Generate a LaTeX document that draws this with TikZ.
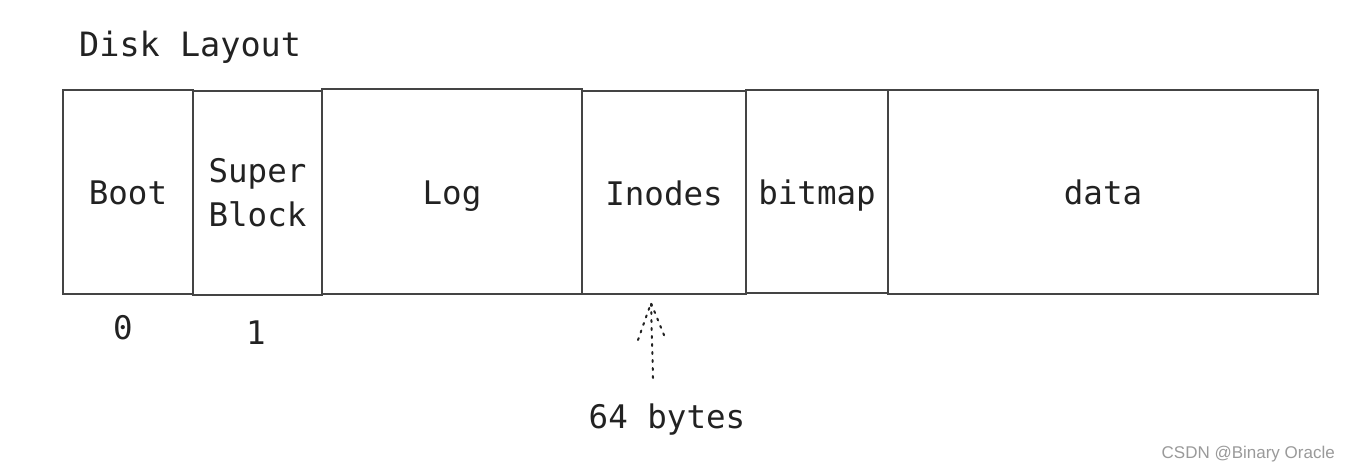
\documentclass[tikz,border=0pt]{standalone}
\usepackage{fontspec}
\newfontfamily\monofam{DejaVu Sans Mono}
\newfontfamily\wmfam{Liberation Sans}
\definecolor{ink}{HTML}{222222}
\definecolor{edge}{HTML}{444444}
\definecolor{wm}{HTML}{9A9A9A}
\begin{document}
\begin{tikzpicture}[x=1pt,y=-1pt,
  blk/.style={draw=edge, line width=2pt, fill=white, inner sep=0pt, text=ink,
    font=\monofam\fontsize{32.5}{44}\selectfont, align=center,
    text height=26pt, text depth=0pt},
  lbl/.style={text=ink, font=\monofam\fontsize{32.5}{40}\selectfont, inner sep=0pt},
  dots/.style={draw=ink, line width=2pt, dash pattern=on 2pt off 6pt, line cap=round}]
\useasboundingbox (0,0) rectangle (1350,473);
\fill[white] (0,0) rectangle (1350,473);
\node[lbl, anchor=base west, font=\monofam\fontsize{33.5}{40}\selectfont] (title) at (79,57) {Disk Layout};
\node[blk, minimum width=130pt, minimum height=204pt] (boot) at (128,192) {Boot};
\node[blk, minimum width=129pt, minimum height=204pt, text height=, text depth=] (super) at (257.5,193) {Super\\Block};
\node[blk, minimum width=260pt, minimum height=205pt] (log) at (452,191.5) {Log};
\node[blk, minimum width=164pt, minimum height=203pt] (inodes) at (664,192.5) {Inodes};
\node[blk, minimum width=142pt, minimum height=203pt] (bitmap) at (817,191.5) {bitmap};
\node[blk, minimum width=430pt, minimum height=204pt] (data) at (1103,192) {data};
\node[lbl] (n0) at (123,328) {0};
\node[lbl] (n1) at (256,333) {1};
\node[lbl, anchor=base] (bytes) at (667,428) {64 bytes};
\coordinate (tail) at (653,378);
\coordinate (tip) at (651,303);
\coordinate (barbL) at (638,340);
\coordinate (barbR) at (666,340);
\draw[dots] (tail) -- (tip);
\draw[dots] (barbL) -- (tip) -- (barbR);
\node[text=wm, font=\wmfam\fontsize{17}{20}\selectfont, anchor=east, inner sep=0pt] (mark) at (1335,454) {CSDN @Binary Oracle};
\end{tikzpicture}
\end{document}
